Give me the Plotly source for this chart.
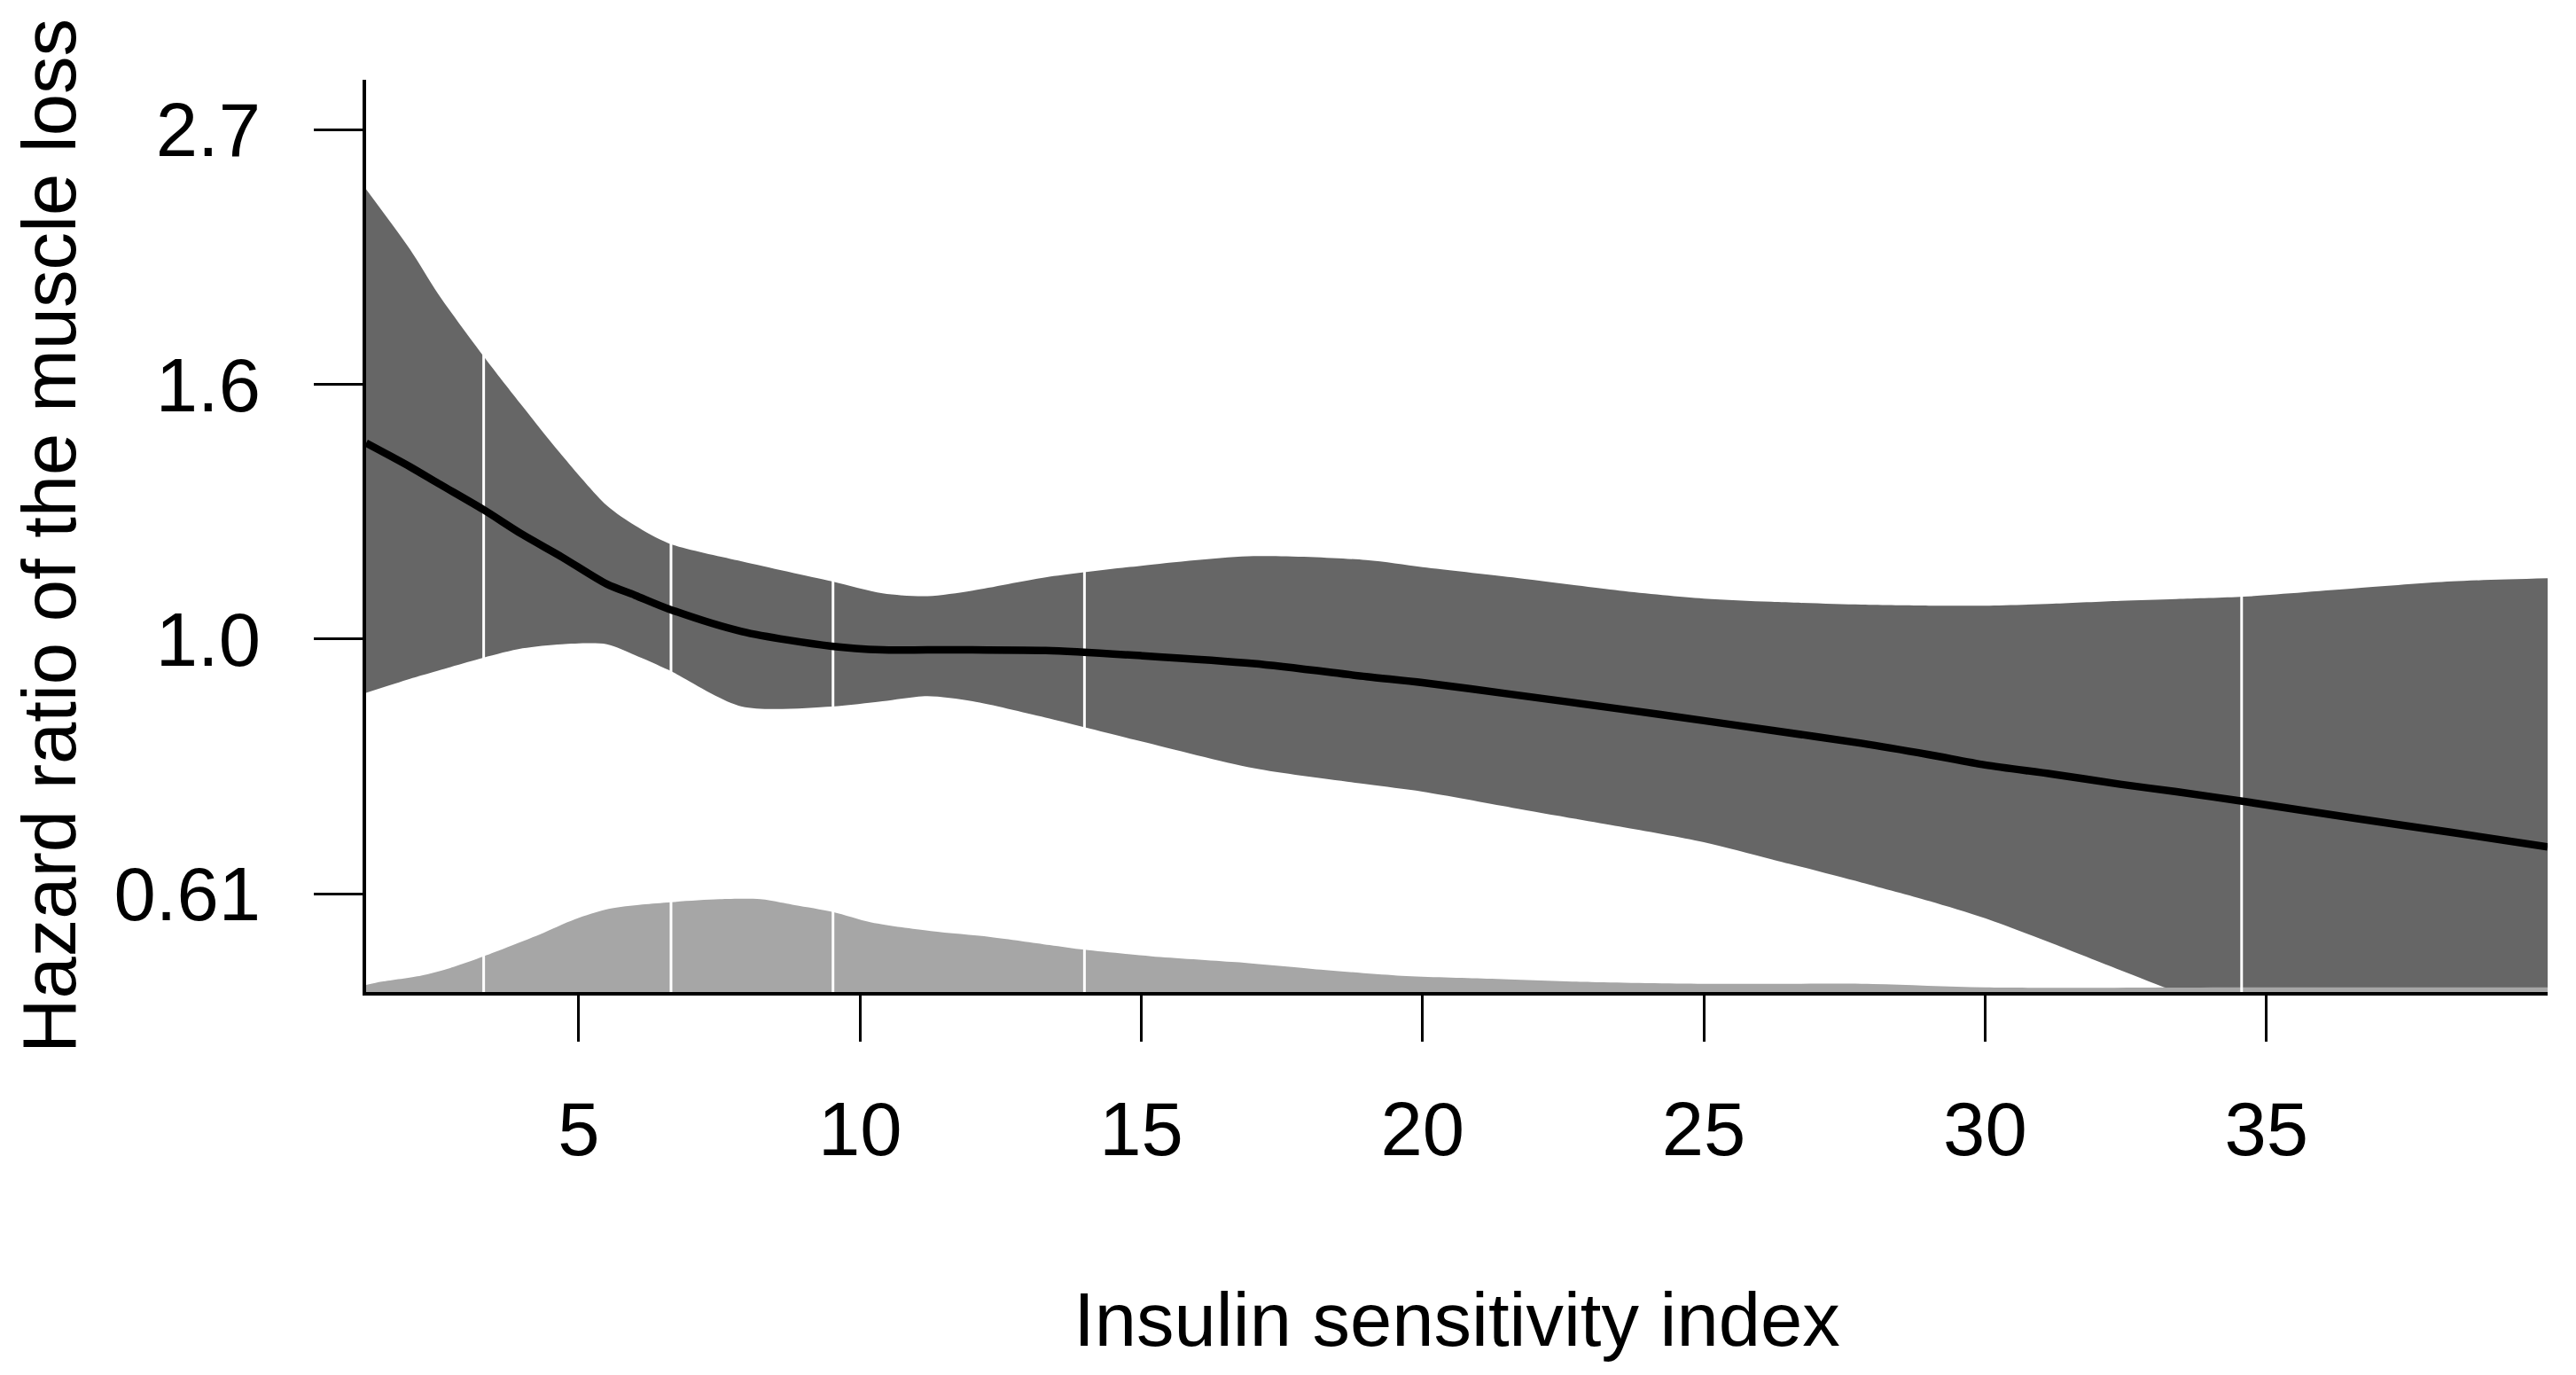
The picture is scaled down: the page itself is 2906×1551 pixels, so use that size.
import math
import plotly.graph_objects as go

# ---- data ----
x_grid = [1.22, 2.0, 2.5, 3.3, 4.0, 4.7, 5.5, 6.0, 6.6, 7.9, 9.5, 10.4, 11.2, 12.0, 13.3,
          15.0, 17.0, 19.0, 20.0, 21.6, 23.5, 25.0, 26.2, 27.8, 29.0, 30.0, 31.2, 32.4,
          33.4, 34.6, 36.6, 38.3, 40.0]
hr_est = [1.47, 1.403, 1.358, 1.29, 1.228, 1.175, 1.114, 1.09, 1.061, 1.015, 0.986, 0.979,
          0.979, 0.979, 0.978, 0.968, 0.953, 0.929, 0.918, 0.897, 0.872, 0.852, 0.836, 0.815,
          0.797, 0.781, 0.767, 0.752, 0.741, 0.727, 0.703, 0.684, 0.665]
hr_upper = [2.42, 2.15, 1.97, 1.745, 1.58, 1.435, 1.30, 1.25, 1.207, 1.165, 1.12, 1.094,
            1.088, 1.10, 1.129, 1.155, 1.177, 1.168, 1.152, 1.129, 1.10, 1.083, 1.076, 1.07,
            1.068, 1.068, 1.072, 1.078, 1.082, 1.087, 1.105, 1.12, 1.127]
hr_lower = [0.90, 0.925, 0.94, 0.964, 0.982, 0.99, 0.99, 0.969, 0.941, 0.876, 0.876, 0.885,
            0.894, 0.885, 0.857, 0.818, 0.776, 0.752, 0.741, 0.718, 0.692, 0.671, 0.649, 0.62,
            0.598, 0.578, 0.55, 0.522, 0.50, 0.475, 0.44, 0.415, 0.39]

# distribution of the insulin sensitivity index (height as a fraction of the panel)
dens_x = [1.22, 1.5, 2.2, 2.66, 3.31, 3.72, 4.32, 4.93, 5.53, 6.13, 6.64, 7.5, 8.23, 8.84,
          9.52, 10.2, 11.26, 12.32, 13.37, 13.99, 15.18, 16.68, 18.04, 19.55, 21.06, 23.0,
          25.0, 28.0, 30.0, 35.0, 40.0]
dens = [0.0078, 0.0113, 0.018, 0.0253, 0.0392, 0.0489, 0.0635, 0.0797, 0.091, 0.0959,
        0.0985, 0.1017, 0.1017, 0.0953, 0.0878, 0.0764, 0.0667, 0.0603, 0.0515, 0.0463,
        0.0392, 0.0327, 0.0253, 0.0181, 0.0149, 0.011, 0.0091, 0.0088, 0.005, 0.005, 0.005]

knots = [3.31, 6.64, 9.52, 13.99, 34.56]

x_ticks = [5, 10, 15, 20, 25, 30, 35]
y_ticks = [math.exp(-0.5), 1.0, math.exp(0.5), math.exp(1.0)]
y_ticktext = ["0.61", "1.0", "1.6", "2.7"]

x_range = [1.22, 40.0]
y_range = [0.5, 3.0]

FONT = "Liberation Sans, Arial, sans-serif"
BAND = "#666666"
DENS = "#A6A6A6"
SMOOTH = dict(shape="spline", smoothing=0.8)

fig = go.Figure()

# confidence band
fig.add_trace(go.Scatter(x=x_grid, y=hr_lower, mode="lines",
                         line=dict(width=0, color=BAND, **SMOOTH),
                         showlegend=False, hoverinfo="skip"))
fig.add_trace(go.Scatter(x=x_grid, y=hr_upper, mode="lines",
                         line=dict(width=0, color=BAND, **SMOOTH),
                         fill="tonexty", fillcolor=BAND, showlegend=False, hoverinfo="skip"))

# density along the bottom of the panel
lo, hi = math.log(y_range[0]), math.log(y_range[1])
dens_y = [math.exp(lo + f * (hi - lo)) for f in dens]
fig.add_trace(go.Scatter(x=[dens_x[0], dens_x[-1]], y=[y_range[0], y_range[0]], mode="lines",
                         line=dict(width=0, color=DENS), showlegend=False, hoverinfo="skip"))
fig.add_trace(go.Scatter(x=dens_x, y=dens_y, mode="lines",
                         line=dict(width=0, color=DENS, **SMOOTH),
                         fill="tonexty", fillcolor=DENS, showlegend=False, hoverinfo="skip"))

# knot lines
for k in knots:
    fig.add_trace(go.Scatter(x=[k, k], y=[y_range[0], y_range[1]], mode="lines",
                             line=dict(width=3, color="white"), showlegend=False,
                             hoverinfo="skip"))

# estimate
fig.add_trace(go.Scatter(x=x_grid, y=hr_est, mode="lines",
                         line=dict(width=8.5, color="black", **SMOOTH),
                         showlegend=False))

fig.update_layout(
    width=2890, height=1535,
    margin=dict(l=405, r=24, t=82, b=424, pad=0),
    paper_bgcolor="white", plot_bgcolor="white",
    font=dict(family=FONT, size=85, color="black"),
    showlegend=False,
)
fig.update_xaxes(
    range=x_range, tickvals=x_ticks, ticks="outside", ticklen=52, tickwidth=3,
    tickcolor="black", showline=True, linewidth=4, linecolor="black", mirror=False,
    showgrid=False, zeroline=False, ticklabelstandoff=26, automargin=False,
    title=dict(text="Insulin sensitivity index", font=dict(size=85), standoff=139),
    tickfont=dict(size=85),
)
fig.update_yaxes(
    type="log", range=[math.log10(y_range[0]), math.log10(y_range[1])],
    tickvals=y_ticks, ticktext=y_ticktext, ticks="outside", ticklen=55, tickwidth=3,
    tickcolor="black", showline=True, linewidth=4, linecolor="black", mirror=False,
    showgrid=False, zeroline=False, ticklabelstandoff=43, automargin=False,
    title=dict(text="Hazard ratio of the muscle loss", font=dict(size=85), standoff=45),
    tickfont=dict(size=85),
)

fig.write_html("out.html")
